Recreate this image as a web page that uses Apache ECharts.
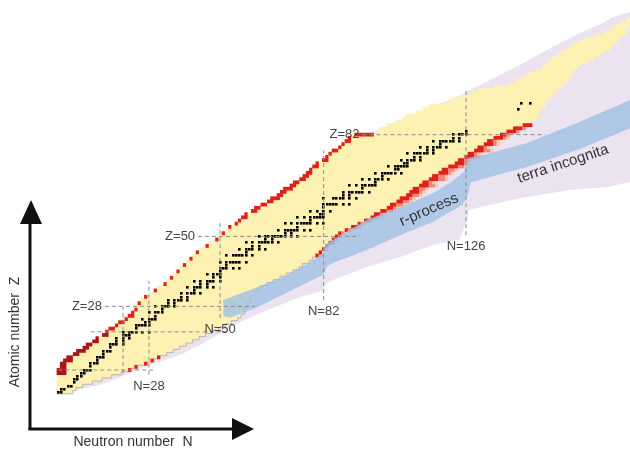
<!DOCTYPE html>
<html><head><meta charset="utf-8">
<script src="https://cdn.jsdelivr.net/npm/echarts@6/dist/echarts.min.js"></script>
<style>html,body{margin:0;padding:0;background:#fff}#c{width:630px;height:449px}</style>
</head><body><div id="c"></div>
<script>
// ---- data (Z = 1..118) ----
const knownNmin = [
 0,0,0,0,0,0,0,0,
 1,1,2,3,5,6,8,9,11,12,14,15,
 16,18,19,21,22,23,24,24,25,26,
 27,29,30,31,33,34,35,36,37,38,
 39,40,41,42,43,45,46,47,49,50,
 51,52,53,55,56,57,58,60,61,63,
 65,66,68,69,70,72,73,75,76,77,
 78,79,80,82,83,84,85,87,88,89,
 90,92,99,100,102,105,107,108,111,113,
 115,120,122,125,128,130,135,140,142,144,
 146,148,150,151,152,153,155,156,158,159,
 161,163,166,169,171,172,174,176];
const knownNmax = [
 4,5,7,10,13,16,19,22,24,27,
 29,31,33,35,37,39,41,43,45,47,
 49,51,53,55,56,57,57,58,58,59,
 59,60,61,62,64,66,68,70,72,74,
 75,77,78,79,80,81,82,83,84,85,
 86,88,90,92,94,96,97,99,101,102,
 104,105,107,108,109,111,112,114,115,117,
 118,120,122,123,125,126,128,129,131,132,
 134,136,138,140,143,145,147,148,148,149,
 150,150,151,152,153,154,155,156,157,158,
 158,159,160,161,163,165,167,168,170,171,
 172,173,174,175,175,176,176,177];
const protonRedCount = [
 0,0,0,0,0,0,
 3,3,2,2,3,2,2,3,2,2,2,
 1,2,1,2,1,2,1,2,1,1,
 0,1,0,1,0,1,0,1,0,1,0,1,0,1,0,1,0,1,0,1,0,1,0,1,0,
 1,1,1,2,1,2,2,2,2,3,2,2,3,2,2,2,2,2,1,2,1,2,1,1,2,1,1,2,1,6,
 0,0,0,0,0,0,0,0,0,0,0,0,0,0,0,0,0,0,0,0,0,0,0,0,0,0,0,0,0,0,0,0,0,0,0,0];
const lowEdgeRedZ = [8, 9, 10, 11, 12];
const layerZ0 = 44; // neutron-rich coloured layers, Z = 44..85
const layerRed   = [1,1,1,1,1,1,1, 1,1,2,1,2,2,2,2,2,2, 2,3,2,3,2,3,2,3,2,3,2,3,3,2,3,2,3,2,3,2,3, 2,3,3,3];
const layerPink  = [1,0,1,0,1,1,1, 1,1,1,1,1,1,1,2,1,2, 2,1,2,1,2,2,1,2,2,1,2,2,1,2,2,1,2,1,1,1,1, 1,1,1,0];
const layerPeach = [0,0,0,0,0,0,0, 0,1,0,1,0,1,1,1,1,1, 1,1,1,1,1,1,1,1,1,1,1,1,1,1,1,1,1,1,1,1,1, 0,0,0,0];
const stableByZ = [
 [1,[0,1]],[2,[1,2]],[3,[3,4]],[4,[5]],[5,[5,6]],[6,[6,7]],[7,[7,8]],[8,[8,9,10]],[9,[10]],[10,[10,11,12]],
 [11,[12]],[12,[12,13,14]],[13,[14]],[14,[14,15,16]],[15,[16]],[16,[16,17,18,20]],[17,[18,20]],[18,[18,20,22]],[19,[20,21,22]],[20,[20,22,23,24,26,28]],
 [21,[24]],[22,[24,25,26,27,28]],[23,[27,28]],[24,[26,28,29,30]],[25,[30]],[26,[28,30,31,32]],[27,[32]],[28,[30,32,33,34,36]],[29,[34,36]],[30,[34,36,37,38,40]],
 [31,[38,40]],[32,[38,40,41,42,44]],[33,[42]],[34,[40,42,43,44,46,48]],[35,[44,46]],[36,[42,44,46,47,48,50]],[37,[48,50]],[38,[46,48,49,50]],[39,[50]],[40,[50,51,52,54,56]],
 [41,[52]],[42,[50,52,53,54,55,56,58]],[44,[52,54,55,56,57,58,60]],[45,[58]],[46,[56,58,59,60,62,64]],[47,[60,62]],[48,[58,60,62,63,64,65,66,68]],[49,[64,66]],[50,[62,64,65,66,67,68,69,70,72,74]],
 [51,[70,72]],[52,[68,70,71,72,73,74,76,78]],[53,[74]],[54,[70,72,74,75,76,77,78,80,82]],[55,[78]],[56,[74,76,78,79,80,81,82]],[57,[81,82]],[58,[78,80,82,84]],[59,[82]],[60,[82,83,84,85,86,88,90]],
 [62,[82,85,86,87,88,90,92]],[63,[88,90]],[64,[88,90,91,92,93,94,96]],[65,[94]],[66,[90,92,94,95,96,97,98]],[67,[98]],[68,[94,96,98,99,100,102]],[69,[100]],[70,[98,100,101,102,103,104,106]],
 [71,[104,105]],[72,[102,104,105,106,107,108]],[73,[107,108]],[74,[106,108,109,110,112]],[75,[110,112]],[76,[108,110,111,112,113,114,116]],[77,[114,116]],[78,[112,114,116,117,118,120]],[79,[118]],[80,[116,118,119,120,121,122,124]],
 [81,[122,124]],[82,[122,124,125,126]],[83,[126]],[90,[142]],[92,[143,146]]
];
// predicted-nuclei region (terra incognita) outline, [N, Z]
const predictedOutline = [
 [0,0],[0,9],[1,11],[8,15],[15,20],[24,28],[35,37],[44,46],[51,51],[60,57],[69,64],[78,71],[87,77],[92,81],[100,84],
 [111,89],[121,93],[126,95.4],[133.4,99.2],[142.7,104],[152.9,109.6],[161.2,114],[168.3,117.1],[171.4,119],[178,121],
 [178,67.5],[170,65.5],[158,64.6],[142.7,62],[130.3,59.2],[127,58.3],[126.3,55],[124,49],[115.8,47.3],[105.6,43.5],
 [95.4,40.4],[84.9,36.3],[82.5,35],[82,33],[75,31],[65,27],[56,23],[50,19.5],[44,16],[37.6,12.7],[28.3,9.6],[13,3.3],[0.5,0.5]
];
// r-process path band, [N, Z]
const rprocessUpper = [[51,30],[60,33.5],[70,37.5],[78,42],[81.5,44.5],[82.5,47.5],[85,49],[95.4,55.2],[105.6,59.2],[115.8,63.6],[122,67.5],[125.5,70.5],[126.5,74.7],[130.3,75.3],[144.8,79.4],[160.3,85.7],[178,93.5]];
const rprocessLower = [[178,84.5],[160.3,77.2],[144.8,71.8],[127.5,67],[126.5,63],[125,60],[115.8,54.5],[105.6,50.4],[95.4,45.7],[84.9,41.6],[83,40.5],[82,38],[80.9,37.5],[70,32],[60,27],[53,24.4],[51,25]];
// magic numbers
const magicZ = [8, 20, 28, 50, 82];
const magicZFromN = [0, 10, 14.4, 43.2, 94];
const magicZToN = [29.3, 52, 60.8, 93, 150.4];
const magicN = [20, 28, 50, 82, 126];
const magicNFromZ = [7, 6.5, 24.3, 30, 50.4];
const magicNToZ = [27.8, 36, 54.5, 77, 96.7];
const labelledZ = [28, 50, 82];
const labelledN = [28, 50, 82, 126];

// ---- build ----
const Z = knownNmin.map((_, i) => i + 1);
const rows = Z.map((z, i) => [z, knownNmin[i], knownNmax[i]]);
const protonRed = [];
Z.forEach((z, i) => { if (protonRedCount[i] > 0) protonRed.push([z, knownNmin[i], knownNmin[i] + protonRedCount[i] - 1]); });
const nLayers = [];
layerRed.forEach((r, k) => {
  const z = layerZ0 + k, end = knownNmax[z - 1];
  let s = end + 1;
  if (r) { nLayers.push([z, s, s + r - 1, 0]); s += r; }
  if (layerPink[k]) { nLayers.push([z, s, s + layerPink[k] - 1, 1]); s += layerPink[k]; }
  if (layerPeach[k]) { nLayers.push([z, s, s + layerPeach[k] - 1, 2]); }
});
lowEdgeRedZ.forEach(z => nLayers.push([z, knownNmax[z - 1], knownNmax[z - 1], 0]));
const stable = [];
stableByZ.forEach(([z, ns]) => ns.forEach(n => stable.push([n, z])));
const magicLines = [];
magicZ.forEach((z, i) => magicLines.push([magicZFromN[i], z, magicZToN[i], z]));
magicN.forEach((n, i) => magicLines.push([n, magicNFromZ[i], n, magicNToZ[i]]));

const layerColors = ['#e0211a', '#f2867c', '#f7c9a8'];

function rowRect(api, z, a, b) {
  const p0 = api.coord([a - 0.5, z + 0.5]);
  const p1 = api.coord([b + 0.5, z - 0.5]);
  return { x: p0[0], y: p0[1] - 0.3, width: p1[0] - p0[0], height: p1[1] - p0[1] + 0.6 };
}

const chart = echarts.init(document.getElementById('c'), null, { renderer: 'canvas' });
const FONT = 'Liberation Sans, Arial, sans-serif';
chart.setOption({
  animation: false,
  grid: { left: 0, right: 0, top: 0, bottom: 0 },
  xAxis: { type: 'value', min: -18.016, max: 176.67, show: false },
  yAxis: { type: 'value', min: -16.85, max: 124.34, show: false },
  series: [
    { type: 'custom', silent: true, data: [[0, 0]], z: 1,
      renderItem: (p, api) => ({ type: 'polygon', shape: { points: predictedOutline.map(q => api.coord(q)) }, style: { fill: '#ece3f1' } }) },
    { type: 'custom', silent: true, data: rows, z: 2,
      renderItem: (p, api) => ({ type: 'rect', shape: rowRect(api, api.value(0), api.value(1), api.value(2)), style: { fill: '#fdf2b2' } }) },
    { type: 'custom', silent: true, data: [[0, 0]], z: 3,
      renderItem: (p, api) => {
        const pts = [api.coord([knownNmin[0] - 0.5, 0.5])];
        for (let z = 1; z <= 44; z++) { pts.push(api.coord([knownNmax[z - 1] + 0.5, z - 0.5])); pts.push(api.coord([knownNmax[z - 1] + 0.5, z + 0.5])); }
        return { type: 'polyline', shape: { points: pts }, style: { stroke: '#a8a8a8', lineWidth: 0.8, fill: null } };
      } },
    { type: 'custom', silent: true, data: protonRed, z: 4,
      renderItem: (p, api) => ({ type: 'rect', shape: rowRect(api, api.value(0), api.value(1), api.value(2)), style: { fill: api.value(0) <= 20 ? '#a8141a' : '#e0211a' } }) },
    { type: 'custom', silent: true, data: nLayers, z: 4,
      renderItem: (p, api) => ({ type: 'rect', shape: rowRect(api, api.value(0), api.value(1), api.value(2)), style: { fill: layerColors[api.value(3)] } }) },
    { type: 'custom', silent: true, data: [[0, 0]], z: 5,
      renderItem: (p, api) => ({ type: 'polygon', shape: { points: rprocessUpper.concat(rprocessLower).map(q => api.coord(q)) }, style: { fill: '#9fc0e3', opacity: 0.8 } }) },
    { type: 'custom', silent: true, data: stable, z: 6,
      renderItem: (p, api) => {
        const c = api.coord([api.value(0), api.value(1)]);
        return { type: 'rect', shape: { x: Math.round(c[0] - 1.3), y: Math.round(c[1] - 1.3), width: 2.6, height: 2.6 }, style: { fill: '#000' } };
      } },
    { type: 'custom', silent: true, data: magicLines, z: 7,
      renderItem: (p, api) => {
        const a = api.coord([api.value(0), api.value(1)]), b = api.coord([api.value(2), api.value(3)]);
        return { type: 'line', shape: { x1: a[0], y1: a[1], x2: b[0], y2: b[1] }, style: { stroke: '#8c8c8c', lineWidth: 1, lineDash: [4, 3] } };
      } },
    { type: 'custom', silent: true, data: labelledZ.map(z => [magicZFromN[magicZ.indexOf(z)], z]), z: 8,
      renderItem: (p, api) => {
        const a = api.coord([api.value(0), api.value(1)]);
        return { type: 'text', x: a[0] - 3, y: a[1], style: { text: 'Z=' + api.value(1), fill: '#444', font: '13px ' + FONT, align: 'right', verticalAlign: 'middle' } };
      } },
    { type: 'custom', silent: true, data: labelledN.map(n => [n, magicNFromZ[magicN.indexOf(n)]]), z: 8,
      renderItem: (p, api) => {
        const a = api.coord([api.value(0), api.value(1)]);
        return { type: 'text', x: a[0], y: a[1] + 5, style: { text: 'N=' + api.value(0), fill: '#444', font: '13px ' + FONT, align: 'center', verticalAlign: 'top' } };
      } }
  ],
  graphic: [
    { type: 'line', shape: { x1: 30, y1: 430, x2: 30, y2: 218 }, style: { stroke: '#111', lineWidth: 3 } },
    { type: 'polygon', shape: { points: [[31, 200], [20, 224], [42, 224]] }, style: { fill: '#111' } },
    { type: 'line', shape: { x1: 28.5, y1: 429, x2: 236, y2: 429 }, style: { stroke: '#111', lineWidth: 3 } },
    { type: 'polygon', shape: { points: [[254, 429], [232, 418], [232, 440]] }, style: { fill: '#111' } },
    { type: 'text', x: 15, y: 332, rotation: Math.PI / 2, style: { text: 'Atomic number  Z', fill: '#333', font: '14px ' + FONT, align: 'center', verticalAlign: 'middle' } },
    { type: 'text', x: 133, y: 442, style: { text: 'Neutron number  N', fill: '#333', font: '14px ' + FONT, align: 'center', verticalAlign: 'middle' } },
    { type: 'text', x: 429, y: 210, rotation: 0.414, z: 100, style: { text: 'r-process', fill: '#333', font: '15px ' + FONT, align: 'center', verticalAlign: 'middle' } },
    { type: 'text', x: 563, y: 164, rotation: 0.32, z: 100, style: { text: 'terra incognita', fill: '#333', font: '15px ' + FONT, align: 'center', verticalAlign: 'middle' } }
  ]
});
</script>
</body></html>
